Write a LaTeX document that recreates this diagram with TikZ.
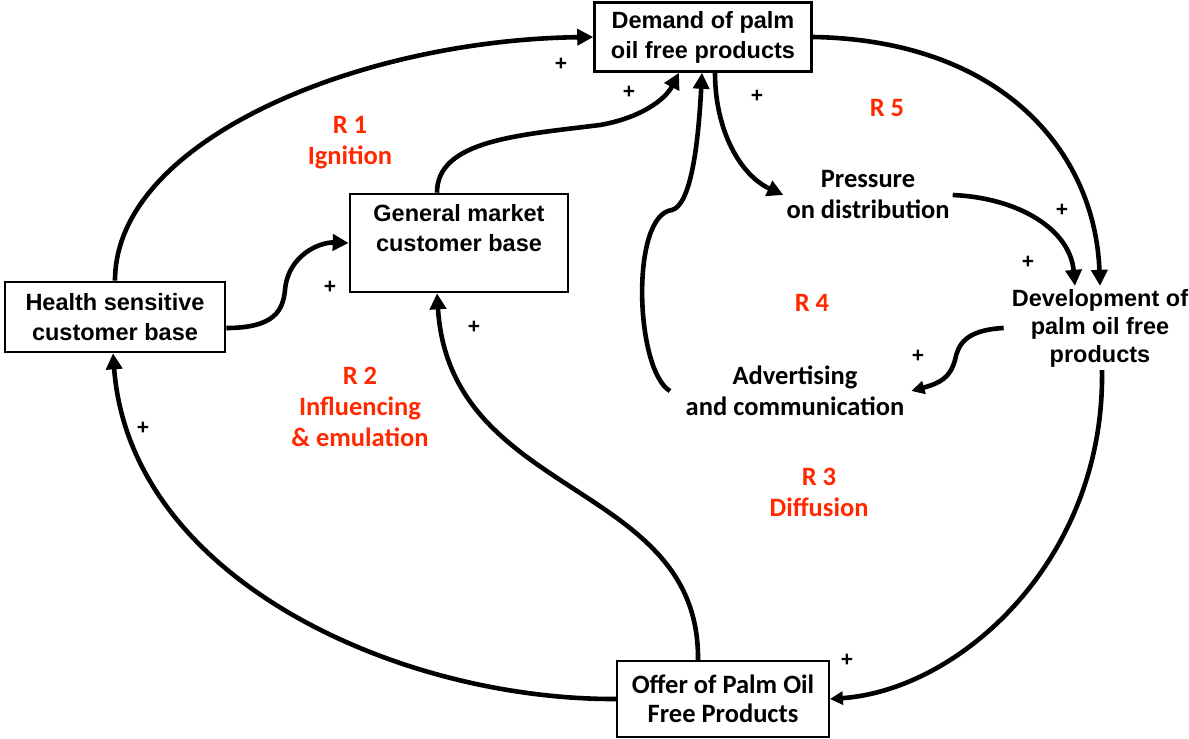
\documentclass[tikz,border=0pt]{standalone}
\usepackage{fontspec}
\setmainfont{Liberation Sans}
\newfontfamily\calibri{Carlito}
\usetikzlibrary{arrows.meta}
\definecolor{loopred}{RGB}{255,40,0}

\tikzset{
  varbox/.style={draw,line width=2.6pt,align=center,inner sep=0pt,font=\bfseries\fontsize{23.5}{30}\selectfont},
  vartext/.style={align=center,inner sep=3pt,font=\calibri\bfseries\fontsize{26.5}{31}\selectfont},
  looplabel/.style={align=center,inner sep=0pt,text=loopred,font=\calibri\bfseries\fontsize{26.5}{31}\selectfont},
  link/.style={line width=4.6pt,-{Triangle[length=16pt,width=16pt]}},
  smalllink/.style={line width=4.6pt,-{Triangle[length=13pt,width=13pt]}},
  plus/.style={inner sep=0pt,font=\bfseries\fontsize{21}{21}\selectfont},
}

\begin{document}
\begin{tikzpicture}[x=1pt,y=-1pt]
    \useasboundingbox (0,0) rectangle (1189,739);
    % variables
    \node[varbox,minimum width=217,minimum height=69] (demand) at (703,37) {Demand of palm\\oil free products};
    \node[varbox,minimum width=220,minimum height=70] (health) at (115,317) {Health sensitive\\customer base};
    \node[varbox,minimum width=218,minimum height=98] (general) at (459,243) {General market\\customer base\\~};
    \node[varbox,line width=1.8pt,minimum width=212,minimum height=76,font=\calibri\bfseries\fontsize{26.5}{29}\selectfont] (offer) at (723,699) {Offer of Palm Oil\\Free Products};
    \node[vartext] (pressure) at (868,195) {Pressure\\on distribution};
    \node[vartext,font=\bfseries\fontsize{23.5}{28}\selectfont] (develop) at (1100,328) {Development of\\palm oil free\\products};
    \node[vartext] (advert) at (795,391) {Advertising\\and communication};

    % loop names
    \node[looplabel] (loopA) at (350,143) {R 1\\Ignition};
    \node[looplabel] (loopB) at (360,407) {R 2\\Influencing\\\& emulation};
    \node[looplabel] (loopC) at (819,492) {R 3\\Diffusion};
    \node[looplabel] (loopD) at (812,303) {R 4};
    \node[looplabel] (loopE) at (887,108) {R 5};

    % links
    \draw[link] (health.north) .. controls (115,140) and (360,40) .. (demand.west);
    \draw[link] ([yshift=-11]health.east) .. controls (275,328) and (283,310) .. (285,290)
        .. controls (288,255) and (320,242) .. (general.west);
    \draw[link] ([xshift=-22]general.north) .. controls (437,140) and (520,135) .. (600,125)
        .. controls (640,118) and (665,100) .. ([xshift=-24]demand.south);
    \draw[link] ([xshift=-125]advert.center) .. controls (635,370) and (630,215) .. (672,210)
        .. controls (690,205) and (698,150) .. ([xshift=-1]demand.south);
    \draw[link] ([xshift=12]demand.south) .. controls (715,130) and (740,175) .. (pressure.west);
    \draw[link] (pressure.east) .. controls (1020,198) and (1070,230) .. ([xshift=-25]develop.north);
    \draw[link] (demand.east) .. controls (1000,40) and (1095,150) .. (develop.north);
    \draw[smalllink] ([xshift=-5]develop.west) .. controls (965,330) and (958,345) .. (955,360)
        .. controls (950,378) and (940,383) .. ([xshift=4]advert.east);
    \draw[smalllink] ([xshift=2]develop.south) .. controls (1105,560) and (960,690) .. (offer.east);
    \draw[link] ([xshift=-25]offer.north) .. controls (700,480) and (450,500) .. ([xshift=-22]general.south);
    \draw[link] (offer.west) .. controls (400,700) and (130,580) .. ([xshift=-2]health.south);

    % polarities
    \foreach \px/\py [count=\i] in {561/64,629/92,757/96,330/287,474/327,143/428,1062/210,1028/262,918/356,847/660}
        \node[plus] (plus\i) at (\px,\py) {+};
\end{tikzpicture}
\end{document}
